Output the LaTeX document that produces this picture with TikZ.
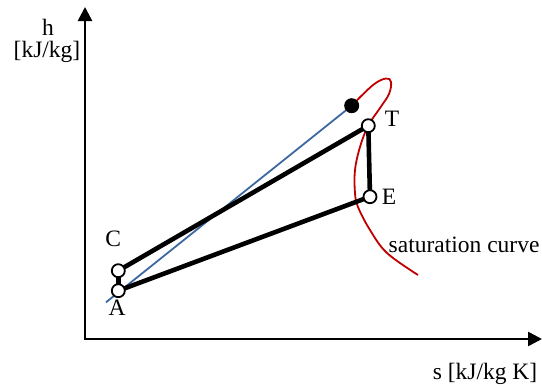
\documentclass[tikz,border=0pt]{standalone}
\usepackage{fontspec}
\setmainfont{Liberation Serif}
\usetikzlibrary{arrows.meta}
\definecolor{satred}{RGB}{192,0,0}
\definecolor{lineblue}{RGB}{59,103,160}
\begin{document}
\begin{tikzpicture}[x=1pt,y=-1pt,
  axis/.style={line width=2.6pt,-{Triangle[length=14pt,width=14pt]}},
  proc/.style={line width=4.6pt},
  state/.style={circle,draw=black,fill=white,line width=1.8pt,minimum size=13pt,inner sep=0pt},
  crit/.style={circle,fill=black,minimum size=15pt,inner sep=0pt},
  lbl/.style={font=\fontsize{23.5}{28}\selectfont,inner sep=0pt}]
\useasboundingbox (0,0) rectangle (542,388);
% axes
\coordinate (O) at (85,339);
\coordinate (ytip) at (85,7);
\coordinate (xtip) at (542,339);
\draw[axis] (85,340.3) -- (ytip);
\draw[axis] (O) -- (xtip);
\node[lbl] (hlab) at (48,27) {h};
\node[lbl] (hunit) at (47,52) {[kJ/kg]};
\node[lbl] (slab) at (485,374) {s [kJ/kg K]};
% points
\coordinate (Apos) at (118.3,290.7);
\coordinate (Cpos) at (118.3,270.7);
\coordinate (Tpos) at (368.3,125.7);
\coordinate (Epos) at (370,196.7);
\coordinate (Kpos) at (351.7,105.7);
\coordinate (bstart) at (106,302.3);
% blue line
\draw[lineblue,line width=1.8pt] (bstart) -- (Kpos);
% saturation curve
\draw[satred,line width=1.8pt] plot[smooth,tension=0.6] coordinates {(351.7,105.7) (373,85) (386,78.5) (391,82) (389,94) (380,108) (368,126) (360,147) (355,170) (355,193) (358,207) (370,230) (387,253) (418,275)};
% process lines
\draw[proc] (Apos) -- (Cpos);
\draw[proc] (Cpos) -- (Tpos);
\draw[proc] (Tpos) -- (Epos);
\draw[proc] (Epos) -- (Apos);
% nodes
\node[crit] (K) at (Kpos) {};
\node[state] (A) at (Apos) {};
\node[state] (C) at (Cpos) {};
\node[state] (T) at (Tpos) {};
\node[state] (E) at (Epos) {};
\node[lbl] (Alab) at (117,308) {A};
\node[lbl] (Clab) at (113.3,239) {C};
\node[lbl] (Tlab) at (392,119) {T};
\node[lbl] (Elab) at (389,197) {E};
\node[lbl,anchor=west] (satlab) at (388.5,245) {saturation curve};
\end{tikzpicture}
\end{document}
